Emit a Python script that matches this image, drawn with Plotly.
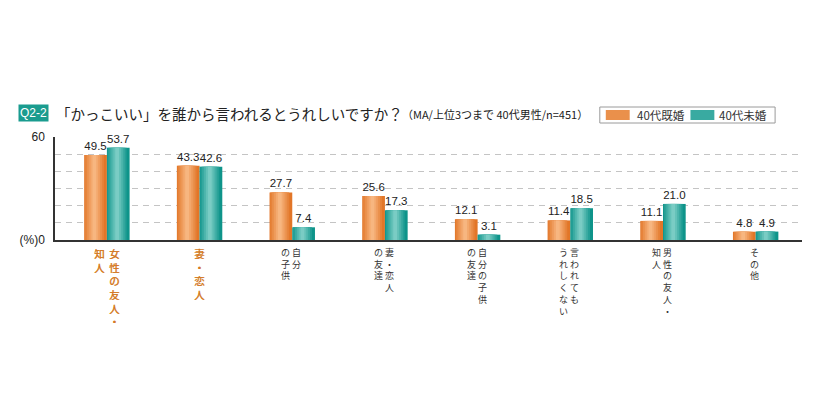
import plotly.graph_objects as go

# data
categories = ['女性の友人・知人', '妻・恋人', '自分の子供', '妻・恋人の友達',
              '自分の子供の友達', '言われてもうれしくない', '男性の友人・知人', 'その他']
# vertical label columns, right column first (as printed)
label_cols = [['女性の友人・', '知人'], ['妻・恋人'], ['自分', 'の子供'], ['妻・恋人', 'の友達'],
              ['自分の子供', 'の友達'], ['言われても', 'うれしくない'], ['男性の友人・', '知人'], ['その他']]
married = [49.5, 43.3, 27.7, 25.6, 12.1, 11.4, 11.1, 4.8]
unmarried = [53.7, 42.6, 7.4, 17.3, 3.1, 18.5, 21.0, 4.9]
series_names = ['40代既婚', '40代未婚']
highlight_cats = 2  # first two labels are printed in orange

# page body has an 8px margin, so the figure sits at (8, 8) in the window
PAGE = 8
W, H = 826 - 2 * PAGE, 413 - 2 * PAGE
PL, PR, PT, PB = 52, 802, 137, 240  # plot box in window pixels
L, T = PL - PAGE, PT - PAGE
R, B = W - (PR - PAGE), H - (PB - PAGE)
PW, PH = PR - PL, PB - PT

FONT = 'Liberation Sans, Arial, Noto Sans CJK JP'
JP = 'Noto Sans CJK JP, sans-serif'
ORANGE_EDGE, ORANGE_HI = (226, 118, 40), (247, 182, 128)
TEAL_EDGE, TEAL_HI = (14, 148, 138), (122, 204, 196)
LABEL_ORANGE = '#d47a26'


def px2x(px):
    return (px - PL) / PW


def px2y(py):
    return (PB - py) / PH


def mix(a, b, t):
    return 'rgb({},{},{})'.format(*[int(round(a[i] + (b[i] - a[i]) * t)) for i in range(3)])


bw = 0.245
fig = go.Figure()

# bars with a fake horizontal gradient: base bar + narrower lighter layers
for vals, off, edge, hi, name in [(married, -bw, ORANGE_EDGE, ORANGE_HI, series_names[0]),
                                   (unmarried, 0.0, TEAL_EDGE, TEAL_HI, series_names[1])]:
    fig.add_trace(go.Bar(
        x=categories, y=vals, name=name, width=bw, offset=off,
        marker=dict(color=mix(edge, hi, 0.0), line=dict(width=0)),
        text=['{:.1f}'.format(v) for v in vals], textposition='outside', constraintext='none',
        textfont=dict(size=11.5, color='#222', family=FONT),
        cliponaxis=False, showlegend=False))
    steps = 5
    for k in range(1, steps + 1):
        f = 1 - k / (steps + 1)
        w = bw * f
        c = off + bw * 0.45
        fig.add_trace(go.Bar(
            x=categories, y=vals, width=w, offset=c - w / 2,
            marker=dict(color=mix(edge, hi, k / steps), line=dict(width=0)),
            hoverinfo='skip', showlegend=False))

annotations = []

# vertical category labels, one stacked column per annotation
for i, cols in enumerate(label_cols):
    big = i < highlight_cats
    size = 10.5 if big else 9
    color = LABEL_ORANGE if big else '#333'
    gap = 15 if big else 11
    n = len(cols)
    for j, col in enumerate(cols):
        shift = (n - 1) * gap / 2 - j * gap
        if not big:
            shift -= 1
        annotations.append(dict(
            x=i, xref='x', xshift=shift, y=px2y(245), yref='paper',
            text='<br>'.join(col), showarrow=False, xanchor='center', yanchor='top',
            align='center', borderpad=0,
            font=dict(size=size, color=color, family=JP,
                      shadow='0.6px 0 0 {}'.format(LABEL_ORANGE) if big else 'none')))

# title
annotations.append(dict(x=px2x(15), y=px2y(113), xref='paper', yref='paper', text='Q2-2',
                        showarrow=False, xanchor='left', yanchor='middle', bgcolor='#1a9c8f',
                        borderpad=1, font=dict(size=12, color='white', family=FONT)))
annotations.append(dict(x=px2x(51), y=px2y(113), xref='paper', yref='paper',
                        text='「かっこいい」を誰から言われるとうれしいですか？',
                        showarrow=False, xanchor='left', yanchor='middle',
                        font=dict(size=14.5, color='#222', family=JP)))
annotations.append(dict(x=px2x(398), y=px2y(114), xref='paper', yref='paper',
                        text='（MA/上位3つまで 40代男性/n=451）',
                        showarrow=False, xanchor='left', yanchor='middle',
                        font=dict(size=11, color='#222', family=JP)))

# legend box drawn by hand to match the compact original
shapes = [dict(type='rect', xref='paper', yref='paper', x0=px2x(599), x1=px2x(775),
               y0=px2y(107), y1=px2y(123), line=dict(color='#9a9a9a', width=1),
               fillcolor='white')]
for sx, tx, edge, hi, name in [(605, 634, ORANGE_EDGE, ORANGE_HI, series_names[0]),
                               (690, 717, TEAL_EDGE, TEAL_HI, series_names[1])]:
    shapes.append(dict(type='rect', xref='paper', yref='paper', x0=px2x(sx), x1=px2x(sx + 24),
                       y0=px2y(110), y1=px2y(120), line=dict(width=0), fillcolor=mix(edge, hi, 0.4)))
    annotations.append(dict(x=px2x(tx), y=px2y(115), xref='paper', yref='paper', text=name,
                            showarrow=False, xanchor='left', yanchor='middle',
                            font=dict(size=11.5, color='#333', family=JP)))

fig.update_layout(
    width=W, height=H, margin=dict(l=L, r=R, t=T, b=B),
    barmode='overlay', plot_bgcolor='white', paper_bgcolor='white',
    font=dict(family=FONT, color='#333'),
    annotations=annotations, shapes=shapes, showlegend=False,
    xaxis=dict(range=[-0.56, 7.5], showticklabels=False, ticks='', showgrid=False,
               showline=True, linecolor='#333', linewidth=1.5, zeroline=False, fixedrange=True),
    yaxis=dict(range=[0, 60], tickvals=[0, 60], ticktext=['(%)0', '60'], ticks='',
               ticklabelstandoff=6, showgrid=False, zeroline=False,
               showline=True, linecolor='#333', linewidth=1.5,
               tickfont=dict(size=12, color='#222', family=FONT),
               minor=dict(tickvals=[10, 20, 30, 40, 50], showgrid=True, griddash='6px,5px',
                          gridcolor='#c4c4c4', gridwidth=1, ticks='')),
)

fig.write_html("out.html")
